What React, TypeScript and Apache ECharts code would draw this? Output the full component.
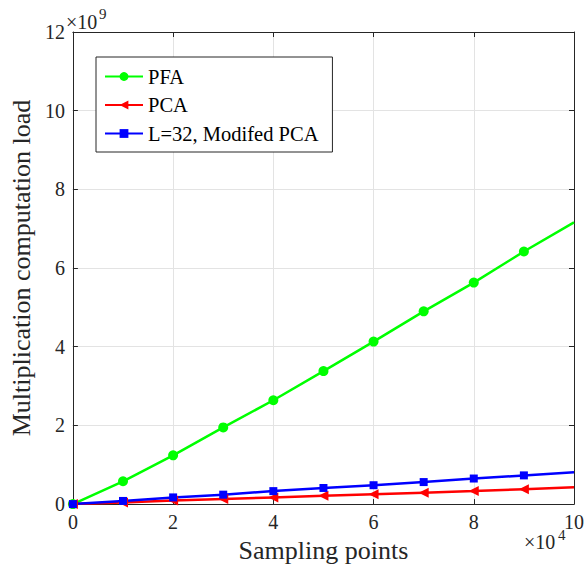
import React, { useEffect, useRef } from "react";
import * as echarts from "echarts";

// Sampling points (raw counts)
const samplingPoints = [0, 10000, 20000, 30000, 40000, 50000, 60000, 70000, 80000, 90000, 100000];

// Multiplication computation load, in units of 1e9
const pfaLoad = [0, 0.58, 1.24, 1.95, 2.64, 3.38, 4.13, 4.9, 5.63, 6.42, 7.16];
const pcaLoad = [0, 0.04, 0.09, 0.13, 0.17, 0.21, 0.25, 0.29, 0.33, 0.38, 0.43];
const modPcaLoad = [0, 0.08, 0.17, 0.24, 0.33, 0.41, 0.48, 0.56, 0.65, 0.73, 0.81];

const seriesNames = ["PFA", "PCA", "L=32, Modifed PCA"];
const xTickLabels = ["0", "2", "4", "6", "8", "10"];
const yTickLabels = ["0", "2", "4", "6", "8", "10", "12"];

const FONT = "Liberation Serif";
const INK = "#262626";

function toPoints(load: number[]) {
  // markers on every sample except the last, where the line just ends
  return samplingPoints.map((x, i) => {
    const item: any = { value: [x, load[i] * 1e9] };
    if (i === samplingPoints.length - 1) item.symbol = "none";
    return item;
  });
}

export default function App() {
  const ref = useRef<HTMLDivElement>(null);

  useEffect(() => {
    if (!ref.current) return;
    const chart = echarts.init(ref.current, undefined, { renderer: "svg" });

    const axisCommon = {
      type: "value" as const,
      axisLine: { show: true, onZero: false, lineStyle: { color: INK, width: 1 } },
      axisTick: { show: true, inside: true, length: 5, lineStyle: { color: INK } },
    };

    chart.setOption({
      animation: false,
      backgroundColor: "#ffffff",
      textStyle: { fontFamily: FONT, color: INK },
      grid: { left: 66, right: 10, top: 32, bottom: 63, containLabel: false },
      xAxis: [
        {
          ...axisCommon,
          position: "bottom",
          min: 0,
          max: 100000,
          interval: 20000,
          axisLabel: {
            margin: 12,
            fontSize: 20,
            lineHeight: 12,
            fontFamily: FONT,
            color: INK,
            formatter: (v: number) => xTickLabels[Math.round(v / 20000)] ?? "",
          },
          splitLine: { show: true, lineStyle: { color: "#e3e3e3", width: 1 } },
          name: "Sampling points",
          nameLocation: "middle",
          nameGap: 23,
          nameTextStyle: { fontSize: 26, fontFamily: FONT, color: INK },
        },
        {
          ...axisCommon,
          position: "top",
          min: 0,
          max: 100000,
          interval: 20000,
          axisLabel: { show: false },
          splitLine: { show: false },
        },
      ],
      yAxis: [
        {
          ...axisCommon,
          position: "left",
          min: 0,
          max: 12e9,
          interval: 2e9,
          axisLabel: {
            margin: 8,
            fontSize: 20,
            fontFamily: FONT,
            color: INK,
            formatter: (v: number) => yTickLabels[Math.round(v / 2e9)] ?? "",
          },
          splitLine: { show: true, lineStyle: { color: "#e3e3e3", width: 1 } },
          name: "Multiplication computation load",
          nameLocation: "middle",
          nameGap: 30,
          nameTextStyle: { fontSize: 26, fontFamily: FONT, color: INK },
        },
        {
          ...axisCommon,
          position: "right",
          min: 0,
          max: 12e9,
          interval: 2e9,
          axisLabel: { show: false },
          splitLine: { show: false },
        },
      ],
      legend: {
        orient: "vertical",
        left: 96,
        top: 57,
        padding: [9, 14, 8, 8],
        itemGap: 7.5,
        itemWidth: 38,
        itemHeight: 11,
        backgroundColor: "#ffffff",
        borderColor: INK,
        borderWidth: 1,
        borderRadius: 0,
        textStyle: { fontSize: 20.5, fontFamily: FONT, color: "#000000", lineHeight: 20 },
        data: seriesNames,
      },
      series: [
        {
          name: seriesNames[0],
          type: "line",
          data: toPoints(pfaLoad),
          color: "#00ff00",
          lineStyle: { width: 2.5, color: "#00ff00" },
          itemStyle: { color: "#00ff00" },
          symbol: "circle",
          symbolSize: 10,
          showAllSymbol: true,
        },
        {
          name: seriesNames[1],
          type: "line",
          data: toPoints(pcaLoad),
          color: "#ff0000",
          lineStyle: { width: 2.5, color: "#ff0000" },
          itemStyle: { color: "#ff0000" },
          symbol: "triangle",
          symbolRotate: 90,
          symbolSize: 10,
          showAllSymbol: true,
        },
        {
          name: seriesNames[2],
          type: "line",
          data: toPoints(modPcaLoad),
          color: "#0000ff",
          lineStyle: { width: 2.5, color: "#0000ff" },
          itemStyle: { color: "#0000ff" },
          symbol: "rect",
          symbolSize: 8,
          showAllSymbol: true,
        },
      ],
      graphic: [
        // exponent for the value axis
        { type: "text", left: 66, top: 12, style: { text: "×10", font: `20px ${FONT}`, fill: INK } },
        { type: "text", left: 99, top: 6, style: { text: "9", font: `15px ${FONT}`, fill: INK } },
        // exponent for the sampling-point axis
        { type: "text", left: 524, top: 532, style: { text: "×10", font: `20px ${FONT}`, fill: INK, lineHeight: 16 } },
        { type: "text", left: 558, top: 527, style: { text: "4", font: `15px ${FONT}`, fill: INK, lineHeight: 6 } },
      ],
    });

    return () => chart.dispose();
  }, []);

  return (
    <div
      ref={ref}
      style={{ position: "fixed", left: 0, top: 0, width: 587, height: 568 }}
    />
  );
}
